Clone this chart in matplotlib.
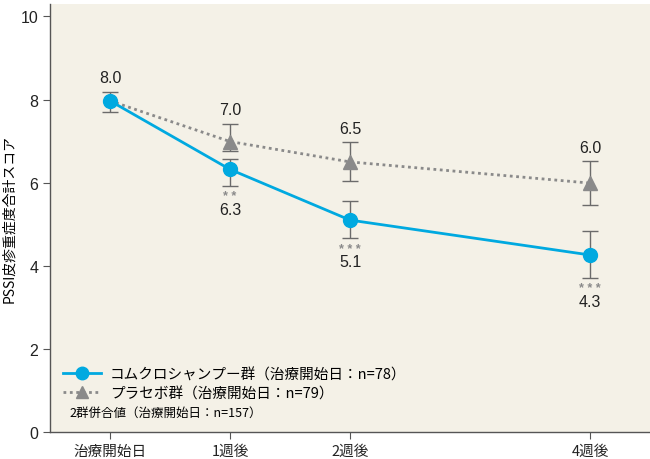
import numpy as np
import matplotlib
matplotlib.use("Agg")
import matplotlib.pyplot as plt
from matplotlib.lines import Line2D

plt.rcParams['font.family'] = ['Noto Sans CJK JP', 'DejaVu Sans']

weeks = [0, 1, 2, 4]
tick_labels = ["治療開始日", "1週後", "2週後", "4週後"]

comb_mean = [7.97, 6.32, 5.10, 4.26]
comb_hi = [8.18, 6.56, 5.55, 4.83]
comb_lo = [7.70, 5.92, 4.66, 3.70]
comb_text = ["8.0", "6.3", "5.1", "4.3"]
comb_stars = ["", "* *", "* * *", "* * *"]

plac_mean = [7.97, 6.99, 6.50, 5.99]
plac_hi = [8.18, 7.42, 6.97, 6.51]
plac_lo = [7.70, 6.77, 6.04, 5.46]
plac_text = ["8.0", "7.0", "6.5", "6.0"]

blue = "#00a9e0"
grey = "#8a8a8a"
errc = "#6b6b6b"
bg = "#f4f1e7"

fig = plt.figure(figsize=(6.5, 4.6), dpi=100)
ax = fig.add_axes([50/650, 27/460, 600/650, 428/460])
ax.set_facecolor(bg)

ax.set_xlim(-0.5, 4.5)
ax.set_ylim(0, 10.3)

# placebo
perr = [np.array(plac_mean[1:]) - np.array(plac_lo[1:]), np.array(plac_hi[1:]) - np.array(plac_mean[1:])]
ax.errorbar(weeks[1:], plac_mean[1:], yerr=perr, fmt='none', ecolor=errc, elinewidth=1, capsize=6, capthick=1, zorder=3)
ax.plot(weeks, plac_mean, color=grey, linestyle=(0, (1, 1.3)), linewidth=2, zorder=2)
ax.plot(weeks[1:], plac_mean[1:], linestyle='none', marker='^', markersize=10, color=grey, zorder=4)

# combination
cerr = [np.array(comb_mean) - np.array(comb_lo), np.array(comb_hi) - np.array(comb_mean)]
ax.errorbar(weeks, comb_mean, yerr=cerr, fmt='none', ecolor=errc, elinewidth=1, capsize=6, capthick=1, zorder=3)
ax.plot(weeks, comb_mean, color=blue, linewidth=2, marker='o', markersize=10, zorder=5)

num_font = ['Liberation Sans', 'DejaVu Sans']
for i, w in enumerate(weeks):
    top = max(plac_hi[i], comb_hi[i])
    ax.text(w, top + 0.16, plac_text[i], ha='center', va='bottom', fontsize=11.5, family=num_font, color="#222222")
for i, w in enumerate(weeks[1:], start=1):
    ax.text(w, comb_lo[i] - 0.10, comb_stars[i], ha='center', va='top', fontsize=9, color=grey,
            fontweight='bold', family=num_font)
    ax.text(w, comb_lo[i] - 0.38, comb_text[i], ha='center', va='top', fontsize=11.5, family=num_font, color="#222222")

ax.set_xticks(weeks)
ax.set_xticklabels(tick_labels, fontsize=10.5)
ax.set_yticks([0, 2, 4, 6, 8, 10])
ax.set_yticklabels(["0", "2", "4", "6", "8", "10"], fontsize=11.5, family=num_font)
ax.set_ylabel("PSSI皮疹重症度合計スコア", fontsize=10)
ax.yaxis.set_label_coords(-34/600, 0.5)

for s in ['top', 'right']:
    ax.spines[s].set_visible(False)
for s in ['left', 'bottom']:
    ax.spines[s].set_color("#555555")
    ax.spines[s].set_linewidth(1)
ax.tick_params(colors="#555555", labelcolor="#222222", length=5)

handles = [
    Line2D([], [], color=blue, linewidth=2, marker='o', markersize=9),
    Line2D([], [], color=grey, linestyle=(0, (1, 1.3)), linewidth=2, marker='^', markersize=9),
    Line2D([], [], linestyle='none'),
]
labels = ["コムクロシャンプー群（治療開始日：n=78）", "プラセボ群（治療開始日：n=79）", "2群併合値（治療開始日：n=157）"]
leg = ax.legend(handles, labels, loc='lower left', bbox_to_anchor=(0.0, 0.0), frameon=False,
                fontsize=10.5, handlelength=2.6, handletextpad=0.6, labelspacing=0.35, borderaxespad=0.5)
texts = leg.get_texts()
texts[2].set_fontsize(9)
texts[2].set_position((-40, 0))

fig.savefig("out.png", dpi=100, facecolor="white")
